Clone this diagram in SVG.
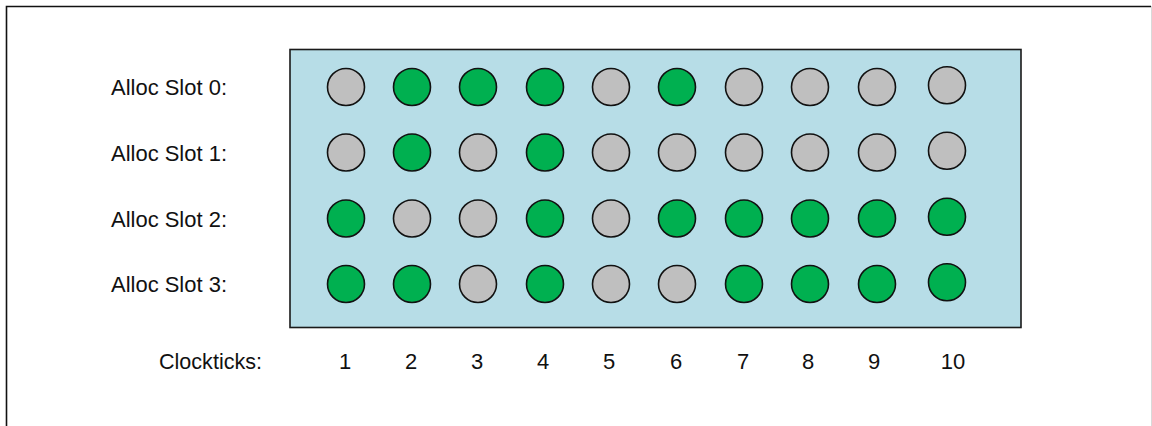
<svg xmlns="http://www.w3.org/2000/svg" width="1152" height="426" viewBox="0 0 1152 426">
  <style>
    .lbl { font-family: "Liberation Sans", Arial, sans-serif; font-size: 22px; fill: #111; }
    .num { font-family: "Liberation Sans", Arial, sans-serif; font-size: 22px; fill: #111; text-anchor: middle; }
    .g { fill: #BFBFBF; stroke: #111; stroke-width: 1.6; }
    .on { fill: #00B050; stroke: #111; stroke-width: 1.6; }
  </style>
  <rect width="1152" height="426" fill="#fff"/>
  <g id="frame">
    <path d="M6.5 430 V6.5 H1151" fill="none" stroke="#111" stroke-width="1.6"/>
    <line x1="1151.5" y1="6" x2="1151.5" y2="426" stroke="#D9D9D9" stroke-width="1"/>
  </g>
  <g id="panel">
    <rect x="290" y="49.5" width="731" height="278" fill="#B7DDE7" stroke="#1a1a1a" stroke-width="1.6"/>
  </g>
  <g id="row-labels">
    <text class="lbl" x="111" y="95" textLength="116" lengthAdjust="spacingAndGlyphs">Alloc Slot 0:</text>
    <text class="lbl" x="111" y="160.5" textLength="116" lengthAdjust="spacingAndGlyphs">Alloc Slot 1:</text>
    <text class="lbl" x="111" y="226.5" textLength="116" lengthAdjust="spacingAndGlyphs">Alloc Slot 2:</text>
    <text class="lbl" x="111" y="292" textLength="116" lengthAdjust="spacingAndGlyphs">Alloc Slot 3:</text>
  </g>
  <g id="slot0">
    <circle class="g" cx="346" cy="87" r="18.5"/>
    <circle class="on" cx="412" cy="87" r="18.5"/>
    <circle class="on" cx="478" cy="87" r="18.5"/>
    <circle class="on" cx="545" cy="87" r="18.5"/>
    <circle class="g" cx="611" cy="87" r="18.5"/>
    <circle class="on" cx="677" cy="87" r="18.5"/>
    <circle class="g" cx="744" cy="87" r="18.5"/>
    <circle class="g" cx="810" cy="87" r="18.5"/>
    <circle class="g" cx="877" cy="87" r="18.5"/>
    <circle class="g" cx="947" cy="85.3" r="18.5"/>
  </g>
  <g id="slot1">
    <circle class="g" cx="346" cy="152.5" r="18.5"/>
    <circle class="on" cx="412" cy="152.5" r="18.5"/>
    <circle class="g" cx="478" cy="152.5" r="18.5"/>
    <circle class="on" cx="545" cy="152.5" r="18.5"/>
    <circle class="g" cx="611" cy="152.5" r="18.5"/>
    <circle class="g" cx="677" cy="152.5" r="18.5"/>
    <circle class="g" cx="744" cy="152.5" r="18.5"/>
    <circle class="g" cx="810" cy="152.5" r="18.5"/>
    <circle class="g" cx="877" cy="152.5" r="18.5"/>
    <circle class="g" cx="947" cy="150.8" r="18.5"/>
  </g>
  <g id="slot2">
    <circle class="on" cx="346" cy="218.5" r="18.5"/>
    <circle class="g" cx="412" cy="218.5" r="18.5"/>
    <circle class="g" cx="478" cy="218.5" r="18.5"/>
    <circle class="on" cx="545" cy="218.5" r="18.5"/>
    <circle class="g" cx="611" cy="218.5" r="18.5"/>
    <circle class="on" cx="677" cy="218.5" r="18.5"/>
    <circle class="on" cx="744" cy="218.5" r="18.5"/>
    <circle class="on" cx="810" cy="218.5" r="18.5"/>
    <circle class="on" cx="877" cy="218.5" r="18.5"/>
    <circle class="on" cx="947" cy="216.8" r="18.5"/>
  </g>
  <g id="slot3">
    <circle class="on" cx="346" cy="284" r="18.5"/>
    <circle class="on" cx="412" cy="284" r="18.5"/>
    <circle class="g" cx="478" cy="284" r="18.5"/>
    <circle class="on" cx="545" cy="284" r="18.5"/>
    <circle class="g" cx="611" cy="284" r="18.5"/>
    <circle class="g" cx="677" cy="284" r="18.5"/>
    <circle class="on" cx="744" cy="284" r="18.5"/>
    <circle class="on" cx="810" cy="284" r="18.5"/>
    <circle class="on" cx="877" cy="284" r="18.5"/>
    <circle class="on" cx="947" cy="282.3" r="18.5"/>
  </g>
  <g id="clockticks">
    <text class="lbl" x="159" y="369" textLength="103" lengthAdjust="spacingAndGlyphs">Clockticks:</text>
    <text class="num" x="345" y="369">1</text>
    <text class="num" x="411" y="369">2</text>
    <text class="num" x="477" y="369">3</text>
    <text class="num" x="543" y="369">4</text>
    <text class="num" x="609" y="369">5</text>
    <text class="num" x="676" y="369">6</text>
    <text class="num" x="743" y="369">7</text>
    <text class="num" x="808" y="369">8</text>
    <text class="num" x="874" y="369">9</text>
    <text class="num" x="953" y="369">10</text>
  </g>
</svg>
